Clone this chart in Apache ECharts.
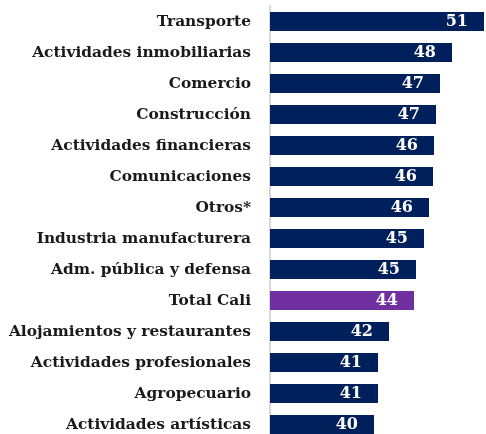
<!DOCTYPE html>
<html>
<head>
<meta charset="utf-8">
<script src="https://cdn.jsdelivr.net/npm/echarts@6/dist/echarts.min.js"></script>
<style>
  html, body { margin: 0; padding: 0; background: #fff; overflow: hidden; }
  #chart { width: 486px; height: 450px; }
</style>
</head>
<body>
<div id="chart"></div>
<script>
// sectores, de mayor a menor
const sectores = [
  'Transporte', 'Actividades inmobiliarias', 'Comercio', 'Construcción',
  'Actividades financieras', 'Comunicaciones', 'Otros*', 'Industria manufacturera',
  'Adm. pública y defensa', 'Total Cali', 'Alojamientos y restaurantes',
  'Actividades profesionales', 'Agropecuario', 'Actividades artísticas'
];
const valores = [51.4, 48.2, 47.0, 46.6, 46.4, 46.3, 45.9, 45.4, 44.6, 44.4, 41.9, 40.8, 40.8, 40.4];

const azul = '#00205b';
const morado = '#7030a0';

const chart = echarts.init(document.getElementById('chart'));
chart.setOption({
  animation: false,
  grid: { left: 270, right: 0, top: 6, bottom: 10 },
  xAxis: {
    type: 'value',
    min: 30,
    max: 51.6,
    show: false
  },
  yAxis: {
    type: 'category',
    inverse: true,
    data: sectores,
    axisLine: { show: true, lineStyle: { color: '#d9d9d9', width: 2 } },
    axisTick: { show: false },
    axisLabel: {
      margin: 19,
      color: '#1a1a1a',
      fontFamily: 'DejaVu Serif',
      fontWeight: 'bold',
      fontSize: 15.4
    }
  },
  series: [{
    type: 'bar',
    barWidth: 19,
    data: valores.map((v, i) => ({
      value: v,
      itemStyle: { color: sectores[i] === 'Total Cali' ? morado : azul }
    })),
    label: {
      show: true,
      position: 'insideRight',
      distance: 16,
      color: '#fff',
      fontFamily: 'DejaVu Serif',
      fontWeight: 'bold',
      fontSize: 16,
      formatter: p => Math.round(p.value)
    }
  }]
});
</script>
</body>
</html>
